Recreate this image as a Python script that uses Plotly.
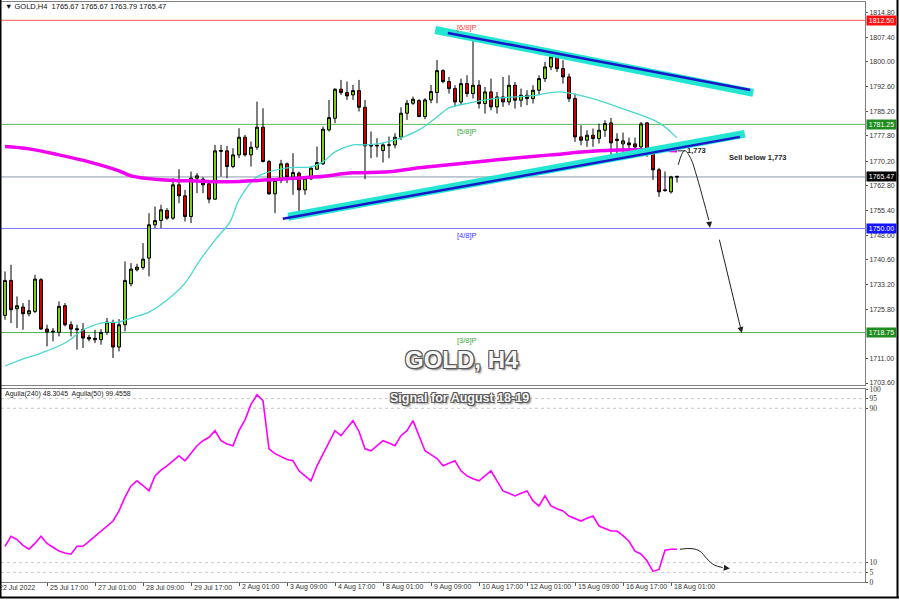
import plotly.graph_objects as go

# ---------------- data ----------------
bars = list(range(113))
opens = [1723.9, 1734.4, 1725.9, 1726.4, 1724.4, 1725.1, 1734.6, 1719.8, 1719.2, 1718.8,
         1726.8, 1721.1, 1719.9, 1719.6, 1717.3, 1716.6, 1716.6, 1718.8, 1721.8, 1714.4,
         1721.1, 1733.4, 1737.6, 1738.3, 1741.1, 1751.1, 1752.4, 1755.4, 1753.1, 1763.1,
         1759.8, 1753.6, 1765.1, 1764.8, 1763.4, 1758.8, 1773.4, 1773.3, 1768.6, 1772.1,
         1777.4, 1772.1, 1774.4, 1780.4, 1770.1, 1760.4, 1764.4, 1769.4, 1765.4, 1766.6,
         1761.6, 1764.9, 1767.8, 1769.4, 1779.6, 1783.1, 1791.8, 1790.8, 1790.1, 1791.4,
         1786.4, 1775.1, 1775.0, 1773.4, 1775.0, 1775.1, 1777.4, 1784.6, 1787.6, 1788.4,
         1783.6, 1788.6, 1790.8, 1797.4, 1794.1, 1792.0, 1788.0, 1793.5, 1790.5, 1793.0,
         1787.5, 1791.0, 1786.5, 1789.5, 1788.0, 1793.0, 1788.5, 1790.0, 1789.0, 1791.5,
         1795.0, 1798.5, 1801.5, 1798.0, 1795.5, 1789.0, 1777.5, 1776.5, 1778.0, 1777.0,
         1779.5, 1781.7, 1776.4, 1775.4, 1775.7, 1775.4, 1774.5, 1781.7, 1773.0, 1767.6,
         1761.6, 1761.0, 1765.67]
highs = [1737.1, 1739.1, 1729.6, 1727.6, 1728.6, 1736.1, 1735.1, 1721.1, 1720.1, 1728.1,
         1727.6, 1722.1, 1721.1, 1721.6, 1718.1, 1719.6, 1719.8, 1723.1, 1722.6, 1722.8,
         1740.1, 1739.6, 1739.4, 1745.6, 1754.6, 1756.6, 1757.1, 1756.1, 1765.1, 1767.8,
         1761.6, 1767.1, 1766.6, 1765.4, 1764.1, 1775.1, 1775.1, 1774.8, 1774.1, 1780.1,
         1778.1, 1776.1, 1788.1, 1786.1, 1770.6, 1764.8, 1770.6, 1769.8, 1772.6, 1767.1,
         1765.6, 1768.6, 1774.6, 1780.6, 1788.6, 1792.1, 1794.6, 1794.1, 1793.1, 1794.6,
         1788.6, 1779.1, 1777.1, 1775.6, 1777.6, 1778.6, 1786.4, 1788.6, 1789.6, 1788.8,
         1789.1, 1793.1, 1800.6, 1797.8, 1795.5, 1793.0, 1795.0, 1796.0, 1807.5, 1794.5,
         1792.5, 1795.0, 1791.0, 1795.5, 1796.0, 1794.0, 1792.0, 1791.5, 1793.0, 1796.0,
         1800.0, 1802.5, 1803.5, 1800.5, 1796.5, 1790.5, 1781.0, 1779.5, 1780.0, 1781.5,
         1782.5, 1783.2, 1778.6, 1778.8, 1777.3, 1777.3, 1782.0, 1782.0, 1773.6, 1768.2,
         1767.1, 1765.8, 1765.67]
lows = [1722.6, 1721.6, 1720.1, 1719.6, 1723.6, 1724.6, 1719.6, 1714.6, 1716.1, 1717.6,
        1720.6, 1717.6, 1713.6, 1714.1, 1716.1, 1715.6, 1715.1, 1718.1, 1711.1, 1713.1,
        1719.1, 1732.6, 1737.1, 1737.6, 1735.6, 1750.1, 1750.1, 1752.6, 1752.6, 1757.6,
        1752.1, 1751.6, 1760.6, 1760.6, 1757.6, 1758.6, 1765.6, 1765.1, 1768.1, 1771.1,
        1771.6, 1768.6, 1773.6, 1769.8, 1760.1, 1754.6, 1763.6, 1763.6, 1760.1, 1754.1,
        1760.1, 1764.6, 1767.6, 1769.1, 1779.1, 1781.6, 1790.1, 1788.6, 1788.6, 1785.1,
        1764.8, 1771.1, 1771.4, 1769.8, 1771.1, 1774.1, 1776.6, 1782.6, 1787.1, 1783.4,
        1782.8, 1787.6, 1787.6, 1793.6, 1790.5, 1786.5, 1787.0, 1789.5, 1789.0, 1786.0,
        1784.5, 1785.5, 1784.5, 1786.5, 1787.0, 1786.0, 1786.5, 1787.0, 1787.5, 1790.0,
        1794.0, 1797.5, 1797.0, 1793.5, 1788.0, 1776.0, 1775.0, 1774.5, 1774.5, 1775.5,
        1777.5, 1771.2, 1771.2, 1773.0, 1773.6, 1772.9, 1773.6, 1771.5, 1764.6, 1759.5,
        1761.0, 1760.5, 1763.79]
closes = [1734.4, 1725.6, 1726.8, 1724.4, 1725.3, 1734.8, 1719.8, 1718.9, 1719.0, 1726.6,
          1721.1, 1719.8, 1719.6, 1717.1, 1716.8, 1717.0, 1718.8, 1721.9, 1714.4, 1721.1,
          1734.4, 1737.8, 1738.4, 1740.8, 1751.1, 1752.4, 1755.6, 1753.1, 1763.1, 1759.8,
          1753.6, 1765.1, 1765.8, 1763.1, 1758.8, 1773.3, 1773.2, 1768.6, 1772.1, 1777.4,
          1772.1, 1774.4, 1780.4, 1770.1, 1760.4, 1764.4, 1769.4, 1765.4, 1766.8, 1761.6,
          1765.1, 1768.1, 1769.8, 1779.8, 1783.3, 1791.8, 1790.8, 1789.8, 1791.4, 1786.4,
          1774.8, 1774.8, 1774.8, 1775.1, 1775.1, 1777.4, 1784.6, 1787.6, 1788.8, 1783.6,
          1788.6, 1791.1, 1797.4, 1794.1, 1792.0, 1788.0, 1793.5, 1790.5, 1793.0, 1787.5,
          1791.0, 1786.5, 1789.5, 1788.0, 1793.0, 1788.5, 1790.0, 1789.0, 1791.5, 1795.0,
          1798.5, 1801.5, 1798.0, 1795.5, 1789.0, 1777.5, 1776.5, 1778.0, 1777.0, 1779.5,
          1781.5, 1775.7, 1776.8, 1776.3, 1775.1, 1774.5, 1781.4, 1773.6, 1767.6, 1761.0,
          1761.4, 1765.5, 1765.47]

ma_slow_idx = [0, 4, 9, 14, 19, 21, 26, 31, 37, 44, 52, 58, 64, 69, 74, 82, 91, 99, 106, 112]
ma_slow_val = [1774.6, 1773.9, 1772.1, 1770.0, 1767.3, 1765.8, 1764.6, 1764.3, 1764.0, 1764.6,
               1765.5, 1766.7, 1767.0, 1768.2, 1769.1, 1770.6, 1772.1, 1773.3, 1773.6, 1773.3]

ma_fast_idx = [0, 2.5, 6, 10, 13, 16, 19, 21, 24, 27, 30, 32.5, 35, 37.5, 39, 42, 47, 51, 53,
               55, 58, 60, 63, 66, 69, 72, 74, 77.5, 82.5, 87.5, 92.5, 97.5, 103.5, 109, 112]
ma_fast_val = [1708.7, 1710.5, 1712.6, 1715.6, 1719.5, 1721.6, 1721.9, 1723.1, 1724.9, 1728.5,
               1733.6, 1740.5, 1746.5, 1752.0, 1758.6, 1765.5, 1768.2, 1768.5, 1770.0, 1773.0,
               1775.1, 1775.1, 1775.7, 1777.2, 1779.6, 1783.5, 1786.2, 1787.7, 1789.2, 1789.8,
               1791.0, 1789.2, 1785.6, 1781.7, 1777.2]

aguila = [18.5, 23.7, 22, 19, 17, 20, 23.7, 20, 18, 16, 15, 14.4, 18.5, 18.5, 21, 23.7, 26,
          29, 31.6, 36.8, 44, 49.8, 52.4, 50, 47.2, 55, 58, 60.2, 63, 65.4, 62.8, 67, 70.6,
          73.2, 75, 78.4, 73.2, 71.5, 70.6, 78.4, 84, 92, 97, 94, 69, 66.5, 65, 63.5, 62.8,
          57.6, 55, 52.4, 60.2, 66, 72, 78.4, 75.8, 80, 83.6, 78, 69, 68, 70.6, 73.2, 72, 70.6,
          75.8, 78.4, 83.6, 75.8, 68, 66, 64, 60.2, 61.5, 62.8, 57.6, 55, 53.5, 52.4, 55, 57.6,
          52.4, 47.2, 46, 44.6, 46, 47.2, 42, 39.4, 44.6, 39.4, 38, 36.8, 34.2, 33, 31.6, 33,
          34.2, 29, 27.5, 26.4, 26.4, 24, 21.1, 16, 14.5, 11, 5.5, 6.5, 16.5, 17, 17]

x_tick_idx = [7, 15, 23, 31, 39, 47, 55, 63, 71, 79, 87, 95, 103, 111]
x_tick_labels = ["25 Jul 17:00", "27 Jul 01:00", "28 Jul 09:00", "29 Jul 17:00", "2 Aug 01:00",
                 "3 Aug 09:00", "4 Aug 17:00", "8 Aug 01:00", "9 Aug 09:00", "10 Aug 17:00",
                 "12 Aug 01:00", "15 Aug 09:00", "16 Aug 17:00", "18 Aug 01:00"]
first_date_label = "22 Jul 2022"

price_ticks = [1814.80, 1807.40, 1800.00, 1792.60, 1785.20, 1777.80, 1770.20, 1762.80,
               1755.40, 1748.00, 1740.60, 1733.20, 1725.80, 1711.00, 1703.60]
ind_ticks = [100, 95, 90, 10, 5, 0]
ind_levels = [95, 90, 10, 5]

murrey_levels = [1812.50, 1781.25, 1750.00, 1718.75]
murrey_names = ["[6/8]P", "[5/8]P", "[4/8]P", "[3/8]P"]
murrey_line_colors = ["#ff5a5a", "#5cb85c", "#7a7aff", "#4fae4f"]
murrey_text_colors = ["#ff3b3b", "#3aa83a", "#3b3bff", "#3aa83a"]
murrey_box_colors = ["#ff1010", "#1e8c1e", "#1414ff", "#1e8c1e"]
last_price = 1765.47

upper_band_idx, upper_band_price = [71.7, 124.7], [1809.6, 1790.7]
upper_core_idx, upper_core_price = [73.8, 124.2], [1808.7, 1791.6]
lower_band_idx, lower_band_price = [47.2, 123.3], [1753.5, 1778.4]
lower_core_idx, lower_core_price = [46.3, 122.5], [1752.9, 1777.5]

curve_idx = [112.2, 112.8, 113.3, 114.3, 115.3, 116.4, 117.3]
curve_price = [1769.1, 1772.3, 1773.4, 1771.0, 1765.6, 1758.5, 1752.5]
curve_tip = (117.5, 1750.2)
arrow2_from, arrow2_to = (119.0, 1747.1), (122.8, 1718.6)
ind_curve_idx = [112.5, 114.5, 115.8, 117.0, 118.2, 119.6]
ind_curve_val = [17.0, 17.3, 16.0, 12.0, 8.8, 7.5]
ind_tip = (120.8, 7.0)
sell_level = 1773.3

# ---------------- layout helpers ----------------
W, H = 900, 600
ML, MR, MT, MB = 1, 35, 2, 18
PW, PH = W - ML - MR, H - MT - MB


def px_x(px):
    return (px - ML) / PW


def px_y(py):
    return 1 - (py - MT) / PH


XR = [-0.667, 143.333]
FONT = "Liberation Sans"

fig = go.Figure()

fig.add_trace(go.Candlestick(
    x=bars, open=opens, high=highs, low=lows, close=closes,
    increasing=dict(line=dict(color="#000000", width=1), fillcolor="#7fd31a"),
    decreasing=dict(line=dict(color="#000000", width=1), fillcolor="#d40000"),
    whiskerwidth=0, showlegend=False, xaxis="x", yaxis="y", hoverinfo="skip"))

fig.add_trace(go.Scatter(x=ma_fast_idx, y=ma_fast_val, mode="lines", line=dict(color="#48d8cf", width=1.3, shape="spline"),
                         showlegend=False, xaxis="x", yaxis="y", hoverinfo="skip"))
fig.add_trace(go.Scatter(x=ma_slow_idx, y=ma_slow_val, mode="lines", line=dict(color="#f000f0", width=3.5, shape="spline"),
                         showlegend=False, xaxis="x", yaxis="y", hoverinfo="skip"))

# trend lines
for bx, by, c, w in [(upper_band_idx, upper_band_price, "#22e6d2", 8), (upper_core_idx, upper_core_price, "#1818c8", 2.5),
                     (lower_band_idx, lower_band_price, "#22e6d2", 8), (lower_core_idx, lower_core_price, "#1818c8", 2.5)]:
    fig.add_trace(go.Scatter(x=bx, y=by, mode="lines", line=dict(color=c, width=w), showlegend=False,
                             xaxis="x", yaxis="y", hoverinfo="skip"))

# arrows / drawings main
fig.add_trace(go.Scatter(x=curve_idx, y=curve_price, mode="lines", line=dict(color="#222", width=1, shape="spline"),
                         showlegend=False, xaxis="x", yaxis="y", hoverinfo="skip"))
fig.add_trace(go.Scatter(x=[curve_idx[1] - 0.7, curve_idx[1] + 0.5], y=[sell_level, sell_level], mode="lines",
                         line=dict(color="#222", width=1), showlegend=False, xaxis="x", yaxis="y", hoverinfo="skip"))

# indicator
fig.add_trace(go.Scatter(x=bars, y=aguila, mode="lines", line=dict(color="#ff00ff", width=1.6),
                         showlegend=False, xaxis="x2", yaxis="y2", hoverinfo="skip"))
fig.add_trace(go.Scatter(x=ind_curve_idx, y=ind_curve_val, mode="lines", line=dict(color="#222", width=1, shape="spline"),
                         showlegend=False, xaxis="x2", yaxis="y2", hoverinfo="skip"))

shapes = []
for lv, c in zip(murrey_levels, murrey_line_colors):
    shapes.append(dict(type="line", xref="x domain", x0=0, x1=1, yref="y", y0=lv, y1=lv,
                       line=dict(color=c, width=1), layer="below"))
shapes.append(dict(type="line", xref="x domain", x0=0, x1=1, yref="y", y0=last_price, y1=last_price,
                   line=dict(color="#8898a8", width=1), layer="below"))
for lv in ind_levels:
    shapes.append(dict(type="line", xref="x2 domain", x0=0, x1=1, yref="y2", y0=lv, y1=lv,
                       line=dict(color="#c8c8c8", width=1, dash="dot"), layer="below"))
# window frame
shapes.append(dict(type="line", xref="paper", yref="paper", x0=px_x(0.5), x1=px_x(0.5), y0=px_y(0), y1=px_y(598),
                   line=dict(color="#000", width=2)))
shapes.append(dict(type="line", xref="paper", yref="paper", x0=px_x(0), x1=px_x(899), y0=px_y(597.5), y1=px_y(597.5),
                   line=dict(color="#000", width=2)))
shapes.append(dict(type="line", xref="paper", yref="paper", x0=px_x(897.5), x1=px_x(897.5), y0=px_y(0), y1=px_y(598),
                   line=dict(color="#000", width=2)))

ann = []
small = dict(family=FONT, size=7, color="#333")
ann.append(dict(xref="paper", yref="paper", x=px_x(3), y=px_y(6), xanchor="left", yanchor="middle", showarrow=False,
                text="▼ GOLD,H4  1765.67 1765.67 1763.79 1765.47", font=dict(family=FONT, size=7.5, color="#111")))
ann.append(dict(xref="paper", yref="paper", x=px_x(3), y=px_y(394), xanchor="left", yanchor="middle", showarrow=False,
                text="Aguila(240) 48.3045  Aguila(50) 99.4558", font=dict(family=FONT, size=7, color="#222")))
for name, lv, c in zip(murrey_names, murrey_levels, murrey_text_colors):
    ann.append(dict(xref="x", yref="y", x=77, y=lv, yanchor="top", xanchor="center", yshift=-1, showarrow=False,
                    text=name, font=dict(family=FONT, size=7.5, color=c)))
for lv, c in zip(murrey_levels + [last_price], murrey_box_colors + ["#000000"]):
    ann.append(dict(xref="paper", yref="y", x=px_x(866), y=lv, xanchor="left", yanchor="middle", showarrow=False,
                    text=f"{lv:.2f}", bgcolor=c, width=29, height=9, borderpad=0,
                    font=dict(family=FONT, size=7, color="#ffffff")))
for ti, tl in zip(x_tick_idx, x_tick_labels):
    ann.append(dict(xref="x2", yref="paper", x=ti, y=px_y(587), xanchor="left", yanchor="middle", xshift=1,
                    showarrow=False, text=tl, font=small))
ann.append(dict(xref="paper", yref="paper", x=px_x(-3), y=px_y(587), xanchor="left", yanchor="middle",
                showarrow=False, text=first_date_label, font=small))
outline = "-1px -1px 0 #555, 1px -1px 0 #555, -1px 1px 0 #555, 1px 1px 0 #555, 2px 2px 2px #777"
ann.append(dict(xref="paper", yref="paper", x=px_x(462), y=px_y(359), xanchor="center", yanchor="middle",
                showarrow=False, text="<b>GOLD, H4</b>",
                font=dict(family=FONT, size=24, color="#f6f6f6", shadow=outline)))
ann.append(dict(xref="paper", yref="paper", x=px_x(459), y=px_y(398), xanchor="center", yanchor="middle",
                showarrow=False, text="<b>Signal for August 18-19</b>",
                font=dict(family=FONT, size=12.5, color="#f6f6f6", shadow=outline)))
ann.append(dict(xref="x", yref="y", x=curve_idx[1] + 0.6, y=sell_level, xanchor="left", yanchor="middle",
                showarrow=False, text="<b>1,773</b>", font=dict(family=FONT, size=7.5, color="#222")))
ann.append(dict(xref="x", yref="y", x=125.5, y=1771.3, xanchor="center", yanchor="middle",
                showarrow=False, text="<b>Sell below 1,773</b>", font=dict(family=FONT, size=7.5, color="#222")))
# arrowheads
ann.append(dict(xref="x", yref="y", axref="x", ayref="y", x=curve_tip[0], y=curve_tip[1],
                ax=curve_idx[-1], ay=curve_price[-1], showarrow=True, arrowhead=2, arrowsize=1.2,
                arrowwidth=1, arrowcolor="#222", text=""))
ann.append(dict(xref="x", yref="y", axref="x", ayref="y", x=arrow2_to[0], y=arrow2_to[1],
                ax=arrow2_from[0], ay=arrow2_from[1], showarrow=True, arrowhead=2, arrowsize=1.2,
                arrowwidth=1, arrowcolor="#222", text=""))
ann.append(dict(xref="x2", yref="y2", axref="x2", ayref="y2", x=ind_tip[0], y=ind_tip[1],
                ax=ind_curve_idx[-1], ay=ind_curve_val[-1], showarrow=True, arrowhead=2, arrowsize=1.2,
                arrowwidth=1, arrowcolor="#222", text=""))

main_bottom = px_y(385)
ind_top = px_y(389)

axis_common = dict(showgrid=False, zeroline=False, showline=True, linecolor="#808080", linewidth=1, mirror=True)
fig.update_layout(
    width=W, height=H, margin=dict(l=ML, r=MR, t=MT, b=MB, autoexpand=False),
    paper_bgcolor="#ffffff", plot_bgcolor="#ffffff",
    shapes=shapes, annotations=ann, showlegend=False,
    xaxis=dict(domain=[0, 1], range=XR, anchor="y", showticklabels=False, ticks="",
               rangeslider=dict(visible=False), **axis_common),
    xaxis2=dict(domain=[0, 1], range=XR, anchor="y2", tickvals=x_tick_idx, ticktext=[""] * len(x_tick_idx),
                ticks="outside", ticklen=3, tickcolor="#555", **axis_common),
    yaxis=dict(domain=[main_bottom, 1], range=[1703.0, 1818.0], anchor="x", side="right",
               tickvals=price_ticks, ticktext=[f"{v:.2f}" for v in price_ticks],
               ticks="outside", ticklen=2, tickcolor="#555",
               tickfont=dict(family=FONT, size=7, color="#333"), **axis_common),
    yaxis2=dict(domain=[0, ind_top], range=[0, 100], anchor="x2", side="right",
                tickvals=ind_ticks, ticktext=[str(v) for v in ind_ticks],
                ticks="outside", ticklen=2, tickcolor="#555",
                tickfont=dict(family="Liberation Serif", size=7.5, color="#333"), **axis_common),
)

fig.write_html("out.html", config={"displayModeBar": False},
               post_script="document.body.style.margin='0px';document.body.style.overflow='hidden';")
